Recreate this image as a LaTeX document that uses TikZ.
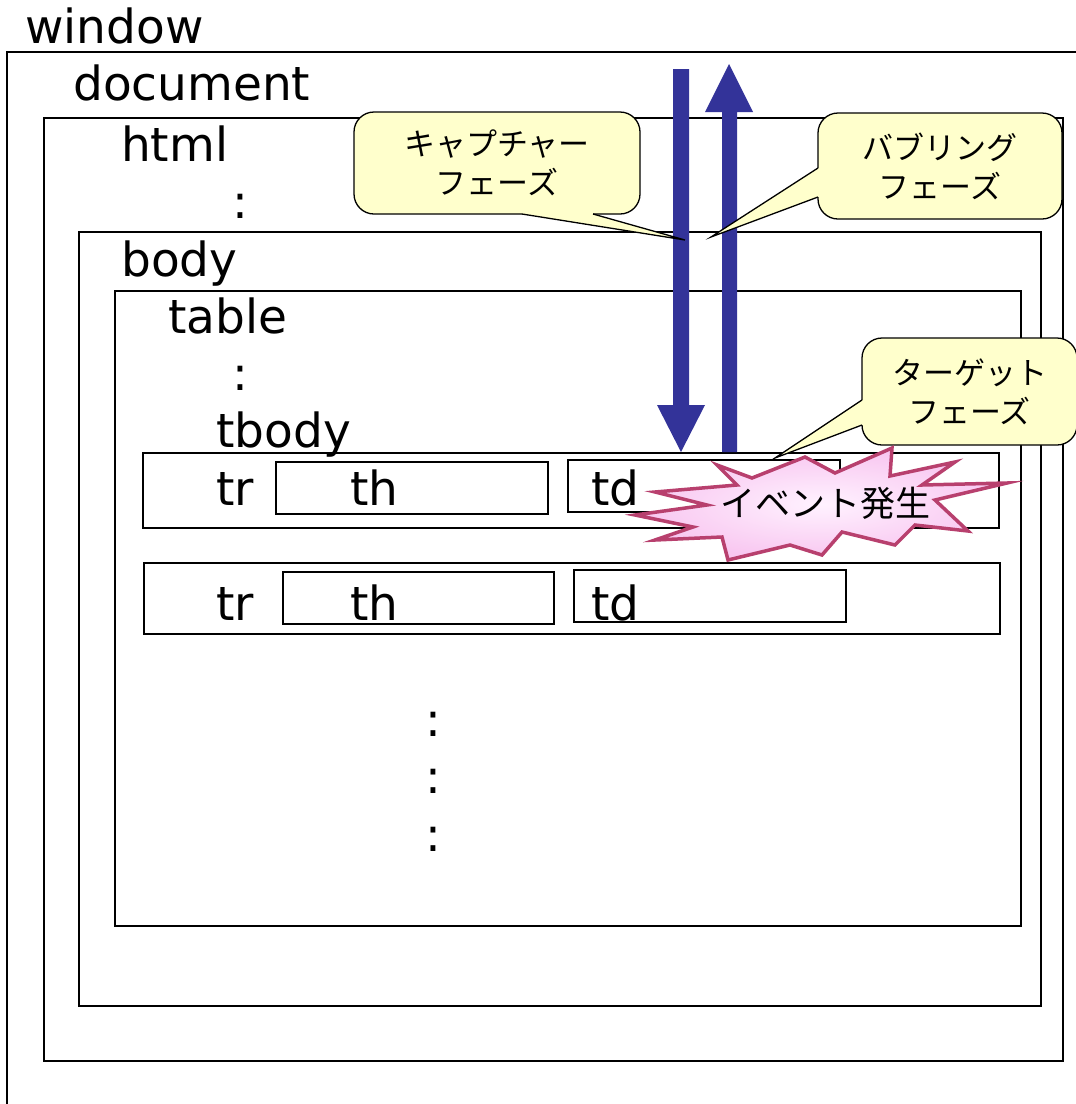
\documentclass[tikz,border=0pt]{standalone}
\usepackage{fontspec}
\setmainfont{DejaVu Sans}
\newfontfamily\jp{Noto Sans CJK JP}
\definecolor{arrowblue}{HTML}{333399}
\definecolor{calloutfill}{HTML}{FFFFCC}
\definecolor{burstline}{HTML}{B8406E}
\definecolor{burstfill}{HTML}{F8C6F0}
\definecolor{burstinner}{HTML}{FFF2FF}
\begin{document}
\begin{tikzpicture}[x=1pt,y=-1pt,
  box/.style={draw=black, line width=1.5pt, anchor=north west, inner sep=0pt, outer sep=0pt},
  lbl/.style={anchor=base west, inner sep=0pt, font=\fontsize{47}{50}\selectfont},
  colon/.style={anchor=base, inner sep=0pt, font=\fontsize{47}{50}\selectfont},
  callout/.style={draw=black, line width=1.3pt, fill=calloutfill, rounded corners=20pt,
    align=center, font=\jp\fontsize{31}{39}\selectfont, inner sep=0pt},
  wedgefill/.style={fill=calloutfill, draw=none},
  wedgeline/.style={draw=black, line width=1.3pt, line join=miter},
  bigarrow/.style={fill=arrowblue, draw=none},
  burst/.style={draw=burstline, line width=3.5pt, line join=miter,
    inner color=burstinner, outer color=burstfill}
]
\useasboundingbox (0,0) rectangle (1076,1104);
\clip (0,0) rectangle (1076,1104);
\fill[white] (0,0) rectangle (1076,1104);

% window (extends beyond the picture)
\node[box, line width=2.3pt, minimum width=1100pt, minimum height=1100pt] (window) at (7,52) {};
\node[box, minimum width=1019pt, minimum height=943pt] (document) at (44,118) {};
\node[box, minimum width=962pt, minimum height=774pt] (body) at (79,232) {};
\node[box, minimum width=906pt, minimum height=635pt] (table) at (115,291) {};
\node[box, minimum width=856pt, minimum height=75pt] (tr1) at (143,453) {};
\node[box, minimum width=272pt, minimum height=52pt] (th1) at (276,462) {};
\node[box, minimum width=272pt, minimum height=52pt] (td1) at (568,460) {};
\node[box, minimum width=856pt, minimum height=71pt] (tr2) at (144,563) {};
\node[box, minimum width=271pt, minimum height=52pt] (th2) at (283,572) {};
\node[box, minimum width=272pt, minimum height=52pt] (td2) at (574,570) {};

% labels
\node[lbl] (twindow) at (25,43) {window};
\node[lbl] (tdocument) at (73,100) {document};
\node[lbl] (thtml) at (121,161) {html};
\node[colon] (c1) at (240,218) {:};
\node[lbl] (tbody) at (121,276) {body};
\node[lbl] (ttable) at (168,333) {table};
\node[colon] (c2) at (240,390) {:};
\node[lbl] (ttbody) at (216,447) {tbody};
\node[lbl] (ttr1) at (216,505) {tr};
\node[lbl] (tth1) at (350,505) {th};
\node[lbl] (ttd1) at (591,505) {td};
\node[lbl] (ttr2) at (216,620) {tr};
\node[lbl] (tth2) at (350,620) {th};
\node[lbl] (ttd2) at (591,620) {td};
\node[colon] (c3) at (433,736) {:};
\node[colon] (c4) at (433,793) {:};
\node[colon] (c5) at (433,851) {:};

% arrows
\fill[bigarrow] (673,69) -- (689,69) -- (689,405) -- (705,405) -- (681,452) -- (657,405) -- (673,405) -- cycle;
\fill[bigarrow] (722,452) -- (737,452) -- (737,112) -- (753,112) -- (729,64) -- (705,112) -- (722,112) -- cycle;

% callouts
\coordinate (capTip) at (685,240);
\coordinate (bubTip) at (711,237);
\coordinate (tgtTip) at (775,458);

\node[callout, minimum width=286pt, minimum height=102pt] (capture) at (497,163) {キャプチャー\\フェーズ};
\fill[wedgefill] (523,210) -- (522,214) -- (capTip) -- (593,214) -- (592,210) -- cycle;
\draw[wedgeline] (522,214) -- (capTip) -- (593,214);

\node[callout, minimum width=244pt, minimum height=106pt] (bubbling) at (940,166) {バブリング\\フェーズ};
\fill[wedgefill] (822,169) -- (818,168) -- (bubTip) -- (818,197) -- (822,196) -- cycle;
\draw[wedgeline] (818,168) -- (bubTip) -- (818,197);

\node[callout, minimum width=215pt, minimum height=107pt] (target) at (969.5,391.5) {ターゲット\\フェーズ};
\fill[wedgefill] (866,401) -- (862,400) -- (tgtTip) -- (862,425) -- (866,424) -- cycle;
\draw[wedgeline] (862,400) -- (tgtTip) -- (862,425);

% starburst
\path[burst] (717,465) -- (752,478) -- (805,457) -- (835,473) -- (892,448) -- (890,476)
  -- (955,462) -- (922,485) -- (1007,483) -- (935,500) -- (968,531) -- (915,525)
  -- (895,545) -- (842,532) -- (822,555) -- (790,545) -- (728,560) -- (722,537)
  -- (655,540) -- (693,527) -- (635,515) -- (707,505) -- (655,492) -- (737,485) -- cycle;
\node[inner sep=0pt, font=\jp\fontsize{35}{40}\selectfont] (event) at (825,503) {イベント発生};
\end{tikzpicture}
\end{document}
